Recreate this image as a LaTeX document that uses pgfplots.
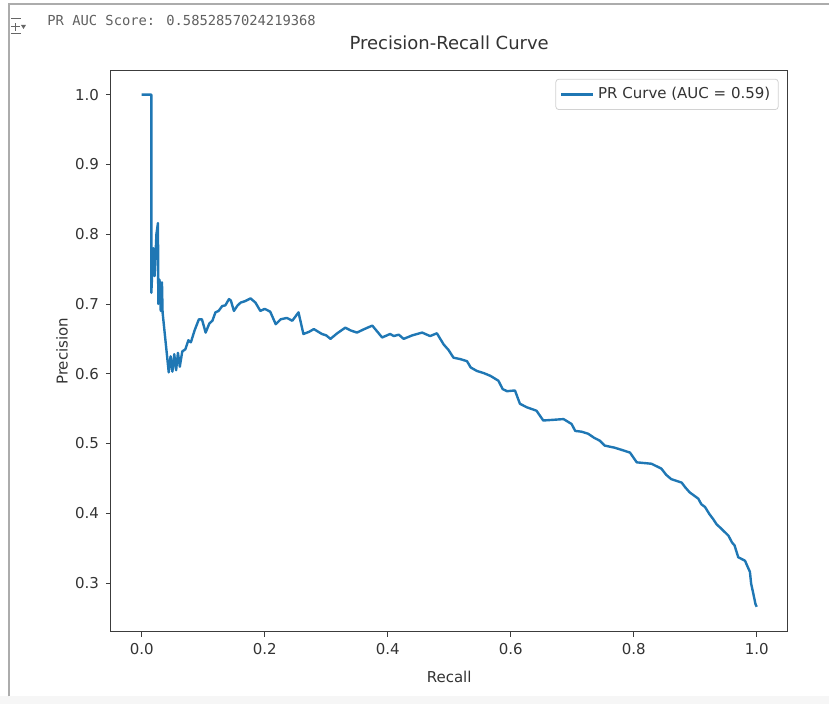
\documentclass[border=0pt]{standalone}
\usepackage{fontspec}
\setmainfont{DejaVu Sans}
\newfontfamily\monofont{DejaVu Sans Mono}
\usepackage{pgfplots}
\pgfplotsset{compat=1.18}
\definecolor{mplblue}{HTML}{1F77B4}
\definecolor{spine}{HTML}{3C3C3C}
\definecolor{txt}{HTML}{333333}

\begin{document}
\begin{tikzpicture}[x=0.5pt,y=0.5pt]
% screenshot frame (units are pixels of the 830x705 shot, y upward)
\path (0,0) rectangle (830,705);
\fill[gray!7] (0,0) rectangle (830,8);
\draw[gray!65, line width=0.6pt] (9,8) -- (9,701) -- (830,701);
% output icon
\draw[gray!80!black, line width=0.5pt] (11,686) -- (21,686);
\draw[gray!80!black, line width=0.5pt] (11,671) -- (21,671);
\draw[gray!80!black, line width=0.5pt] (11,678) -- (20,678) (15.5,674) -- (15.5,682);
\fill[gray!80!black] (21,680) -- (26,680) -- (23.5,676) -- cycle;
\node[anchor=base west, inner sep=0pt, text=gray!75!black,
      font=\monofont\fontsize{6.9}{8}\selectfont] at (47,679) {PR AUC Score: 0.5852857024219368};

\begin{axis}[
  at={(55.5pt,36.5pt)}, anchor=south west,
  width=338.5pt, height=280.5pt, scale only axis,
  xmin=-0.05, xmax=1.05, ymin=0.2305, ymax=1.034,
  xtick={0,0.2,0.4,0.6,0.8,1.0},
  ytick={0.3,0.4,0.5,0.6,0.7,0.8,0.9,1.0},
  xtick pos=bottom, ytick pos=left,
  xticklabel style={/pgf/number format/fixed, /pgf/number format/fixed zerofill, /pgf/number format/precision=1},
  yticklabel style={/pgf/number format/fixed, /pgf/number format/fixed zerofill, /pgf/number format/precision=1},
  /pgf/number format/assume math mode=true,
  tick align=outside, major tick length=2.5pt,
  tick style={spine, line width=0.4pt},
  axis line style={spine, line width=0.5pt},
  tick label style={font=\fontsize{7.5}{9}\selectfont, text=txt},
  title={Precision-Recall Curve},
  title style={font=\fontsize{9}{11}\selectfont, text=txt, at={(axis description cs:0.5,1.0285)}, anchor=center},
  xlabel={Recall}, ylabel={Precision},
  xlabel style={font=\fontsize{7.5}{9}\selectfont, text=txt, at={(axis description cs:0.5,-0.0802)}, anchor=center},
  ylabel style={font=\fontsize{7.5}{9}\selectfont, text=txt, at={(axis description cs:-0.0724,0.5)}, anchor=center},
  legend style={at={(0.987,0.986)}, anchor=north east, draw=gray!35, rounded corners=1.5pt,
                font=\fontsize{7.5}{9}\selectfont, text=txt, inner sep=2pt},
  legend cell align=left,
  legend image code/.code={\draw[#1] (0pt,0pt) -- (16pt,0pt);},
]
\addplot[mplblue, line width=1.2pt, line join=round] coordinates {
(0,1.0) (0.0157,1.0) (0.0157,0.716) (0.019,0.78) (0.021,0.74) (0.024,0.80) (0.0265,0.816)
(0.027,0.70) (0.029,0.735) (0.031,0.69) (0.033,0.731) (0.034,0.688) (0.044,0.602)
(0.047,0.625) (0.050,0.603) (0.053,0.628) (0.056,0.605) (0.059,0.630) (0.062,0.610)
(0.066,0.632) (0.071,0.635) (0.076,0.648) (0.080,0.645) (0.086,0.662) (0.093,0.678) (0.098,0.678) (0.104,0.659)
(0.110,0.672) (0.115,0.676) (0.120,0.688) (0.125,0.690) (0.131,0.697) (0.136,0.698) (0.142,0.707) (0.145,0.705) (0.150,0.690)
(0.156,0.698) (0.161,0.702) (0.168,0.704) (0.177,0.708) (0.185,0.702) (0.193,0.690) (0.200,0.693) (0.209,0.689) (0.218,0.671)
(0.226,0.678) (0.236,0.680) (0.245,0.676) (0.255,0.688) (0.263,0.657) (0.272,0.660) (0.280,0.664) (0.293,0.657)
(0.300,0.655) (0.307,0.650) (0.318,0.658) (0.331,0.666) (0.340,0.662) (0.350,0.659) (0.362,0.664) (0.375,0.669) (0.391,0.652) (0.404,0.657)
(0.410,0.654) (0.418,0.656) (0.426,0.650) (0.440,0.655) (0.456,0.659) (0.469,0.654) (0.480,0.658) (0.491,0.642)
(0.499,0.634) (0.507,0.623) (0.518,0.621) (0.529,0.618) (0.535,0.609) (0.545,0.604) (0.556,0.601) (0.567,0.597) (0.580,0.590) (0.587,0.578) (0.594,0.575)
(0.607,0.576) (0.615,0.557) (0.626,0.552) (0.642,0.547) (0.653,0.533) (0.670,0.534) (0.686,0.535)
(0.699,0.528) (0.705,0.518) (0.715,0.517) (0.726,0.514) (0.736,0.508) (0.745,0.504) (0.753,0.497) (0.769,0.494)
(0.780,0.491) (0.794,0.487) (0.805,0.473) (0.817,0.472) (0.829,0.471) (0.845,0.464) (0.853,0.455) (0.861,0.449) (0.878,0.444)
(0.884,0.437) (0.891,0.430) (0.905,0.421) (0.910,0.413) (0.916,0.409) (0.923,0.399) (0.929,0.392) (0.935,0.384) (0.940,0.380) (0.947,0.374) (0.954,0.368)
(0.960,0.358) (0.964,0.354) (0.970,0.337) (0.981,0.332) (0.986,0.322) (0.989,0.316) (0.991,0.299) (0.994,0.287)
(0.998,0.270) (1.0,0.266)
};
\addlegendentry{PR Curve (AUC = 0.59)}
\end{axis}
\end{tikzpicture}
\end{document}
